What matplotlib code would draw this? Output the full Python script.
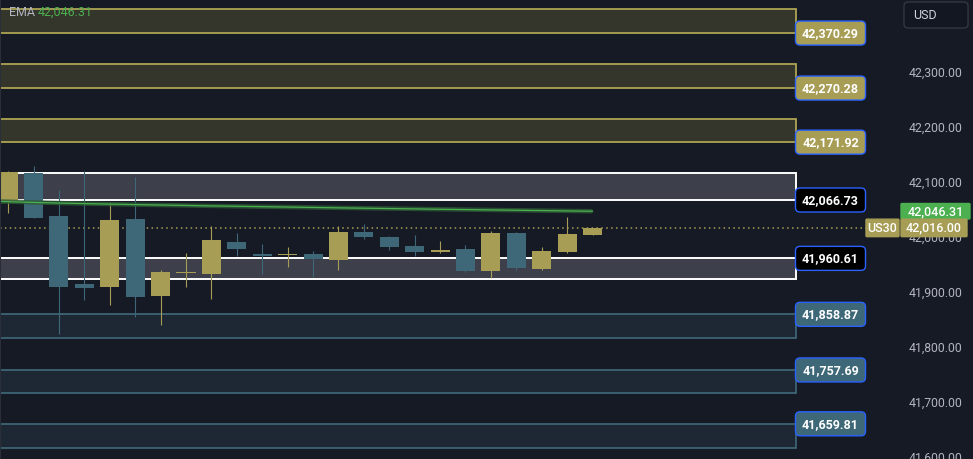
import matplotlib
matplotlib.use("Agg")
import numpy as np
import matplotlib.pyplot as plt
import matplotlib.transforms as mtransforms
from matplotlib.patches import Rectangle, FancyBboxPatch

plt.rcParams['font.family'] = ['Roboto', 'DejaVu Sans']

# ---------------------------------------------------------------------------
# data (US30, 24 candles)
# ---------------------------------------------------------------------------
opens = [42064.4, 42115.8, 42037.6, 41914.0, 41909.1, 42032.2, 41892.7, 41934.5,
         41932.7, 41990.4, 41968.6, 41966.7, 41968.6, 41958.2, 42008.5, 41999.5,
         41983.1, 41972.7, 41977.6, 41938.2, 42006.7, 41941.8, 41972.7, 42003.6]
highs = [42119.5, 42128.5, 42084.9, 42119.5, 42063.1, 42108.5, 41939.5, 41970.4,
         42019.5, 42006.7, 41987.6, 41980.5, 41974.8, 42019.5, 42023.1, 42001.3,
         42003.1, 41992.2, 41984.9, 42010.4, 42008.5, 41981.3, 42035.8, 42016.0]
lows = [42043.6, 42034.5, 41823.6, 41885.5, 41876.4, 41854.5, 41840.0, 41909.1,
        41887.3, 41965.5, 41932.7, 41945.5, 41927.3, 41940.0, 41996.4, 41976.4,
        41965.5, 41970.9, 41936.4, 41925.5, 41940.0, 41940.0, 41970.9, 42003.6]
closes = [42117.6, 42034.5, 41909.1, 41907.3, 42030.4, 41890.9, 41935.8, 41935.8,
          41994.0, 41978.2, 41964.9, 41968.6, 41959.5, 42008.5, 42000.0, 41981.8,
          41972.7, 41975.8, 41938.2, 42006.7, 41943.6, 41974.0, 42004.9, 42016.0]

# EMA, one point before the first visible candle + one per candle
ema = [42064.6, 42063.7, 42062.3, 42061.2, 42060.2, 42059.3, 42058.4, 42057.6,
       42056.8, 42056.0, 42055.3, 42054.6, 42053.9, 42053.2, 42052.5, 42051.8,
       42051.2, 42050.6, 42049.9, 42049.3, 42048.7, 42048.1, 42047.5, 42046.9,
       42046.3]
ema_value = 42046.31
last_price = 42016.00
symbol = "US30"
currency = "USD"

resist_levels = [42370.29, 42270.28, 42171.92]
resist_tops = [42414.0, 42314.0, 42214.0]
pivot_levels = [42066.73, 41960.61]
pivot_edges = [42115.0, 41923.0]
support_levels = [41858.87, 41757.69, 41659.81]
support_bottoms = [41816.0, 41715.0, 41616.0]

price_ticks = [41600, 41700, 41800, 41900, 42000, 42100, 42200, 42300]

# ---------------------------------------------------------------------------
# style
# ---------------------------------------------------------------------------
BG = '#161a25'
UP = '#a89d55'
DOWN = '#3e6878'
BLUE_EDGE = '#2962ff'
AXIS_TXT = '#b2b5be'
GREEN = '#4caf50'

fig = plt.figure(figsize=(9.73, 4.59), dpi=100, facecolor=BG)
ax = fig.add_axes([0, 0, 900 / 973, 1])
ax.set_facecolor(BG)
ax.set_xlim(-0.32, 35.1)
ax.set_ylim(41595.8, 42430.4)

for side in ['top', 'right', 'bottom']:
    ax.spines[side].set_visible(False)
ax.spines['left'].set_color('#2a2e39')
ax.spines['left'].set_linewidth(1.5)
ax.spines['left'].set_zorder(8)

ax.set_xticks([])
ax.yaxis.tick_right()
ax.set_yticks(price_ticks)
ax.set_yticklabels([f"{v:,.2f}" for v in price_ticks])
ax.tick_params(axis='y', length=0, pad=6.5, labelsize=8.8, labelcolor=AXIS_TXT)

blend = mtransforms.blended_transform_factory(ax.transAxes, ax.transData)
zone_left = -0.02
zone_right = 795.5 / 900


def zone(lo, hi, fc, ec, lw):
    ax.add_patch(Rectangle((zone_left, lo), zone_right - zone_left, hi - lo,
                           transform=blend, fc=fc, ec=ec, lw=lw, zorder=1))


for lvl, top in zip(resist_levels, resist_tops):
    zone(lvl, top, '#35362b', '#aca453', 1.3)
for lvl, edge in zip(pivot_levels, pivot_edges):
    zone(min(lvl, edge), max(lvl, edge), '#3d3f4b', '#ffffff', 1.4)
for lvl, bot in zip(support_levels, support_bottoms):
    zone(bot, lvl, '#1e2834', '#3f6a7a', 1.2)


def tag(xa, y, text, fc, ec, x0, w, h, r=0.045, tc='white', weight='bold',
        size=9, lw=1.0, base=None, ha='center', tx=None):
    base = blend if base is None else base
    t = fig.dpi_scale_trans + mtransforms.ScaledTranslation(xa, y, base)
    ax.add_patch(FancyBboxPatch((x0, -h / 2), w, h,
                                boxstyle=f"round,pad=0,rounding_size={r}",
                                transform=t, fc=fc, ec=ec, lw=lw,
                                clip_on=False, zorder=6))
    ax.text(x0 + w / 2 if tx is None else tx, -0.005, text, transform=t,
            ha=ha, va='center', color=tc, fontsize=size, fontweight=weight,
            clip_on=False, zorder=7)


# level tags next to the zones
for lvl in resist_levels:
    tag(zone_right, lvl, f"{lvl:,.2f}", UP, BLUE_EDGE, 0.0, 0.70, 0.24)
for lvl in pivot_levels:
    tag(zone_right, lvl, f"{lvl:,.2f}", '#000000', BLUE_EDGE, 0.0, 0.70, 0.24)
for lvl in support_levels:
    tag(zone_right, lvl, f"{lvl:,.2f}", DOWN, BLUE_EDGE, 0.0, 0.70, 0.24)

# ---------------------------------------------------------------------------
# candles
# ---------------------------------------------------------------------------
x = np.arange(len(opens))
o = np.array(opens)
c = np.array(closes)
colors = [UP if cc >= oo else DOWN for oo, cc in zip(o, c)]
min_h = 2.2
bottoms = np.minimum(o, c)
heights = np.maximum(np.abs(c - o), min_h)
ax.vlines(x, lows, highs, colors=colors, lw=0.8, zorder=3)
ax.bar(x, heights, bottom=bottoms, width=0.75, color=colors, zorder=3.5)

# EMA line with its soft shadow
ema_x = np.arange(-1, len(ema) - 1)
ax.plot(ema_x, ema, color='#2c5a35', lw=3.2, alpha=0.8, zorder=4,
        solid_capstyle='butt')
ax.plot(ema_x, ema, color=GREEN, lw=0.9, zorder=4.5)

# last price dotted line
ax.axhline(last_price, xmin=0, xmax=866 / 900, color=UP, lw=1.1,
           linestyle=(0, (1, 2.2)), zorder=2)

# price scale tags
tag(1.0, ema_value, f"{ema_value:,.2f}", GREEN, GREEN, 0.01, 0.69, 0.155,
    r=0.01, weight='medium', size=9)
tag(1.0, last_price, f"{last_price:,.2f}", UP, UP, 0.01, 0.66, 0.175,
    r=0.01, weight='medium', size=9)
tag(1.0, last_price, symbol, UP, UP, -0.34, 0.33, 0.175,
    r=0.01, weight='medium', size=9)

# currency button top right
top_trans = fig.dpi_scale_trans + mtransforms.ScaledTranslation(1.0, 1.0, ax.transAxes)
ax.add_patch(FancyBboxPatch((0.04, -0.28), 0.64, 0.26,
                            boxstyle="round,pad=0,rounding_size=0.04",
                            transform=top_trans, fc='#131722', ec='#363a45',
                            lw=0.9, clip_on=False, zorder=6))
ax.text(0.13, -0.155, currency, transform=top_trans, ha='left', va='center',
        color='#d1d4dc', fontsize=9, clip_on=False, zorder=7)

# indicator legend top left
leg_trans = fig.dpi_scale_trans + mtransforms.ScaledTranslation(0.0, 1.0, ax.transAxes)
ax.text(0.09, -0.125, "EMA", transform=leg_trans, ha='left', va='center',
        color=AXIS_TXT, fontsize=9, zorder=7)
ax.text(0.38, -0.125, f"{ema_value:,.2f}", transform=leg_trans, ha='left',
        va='center', color=GREEN, fontsize=9, zorder=7)

fig.savefig("out.png", dpi=100, facecolor=BG)
